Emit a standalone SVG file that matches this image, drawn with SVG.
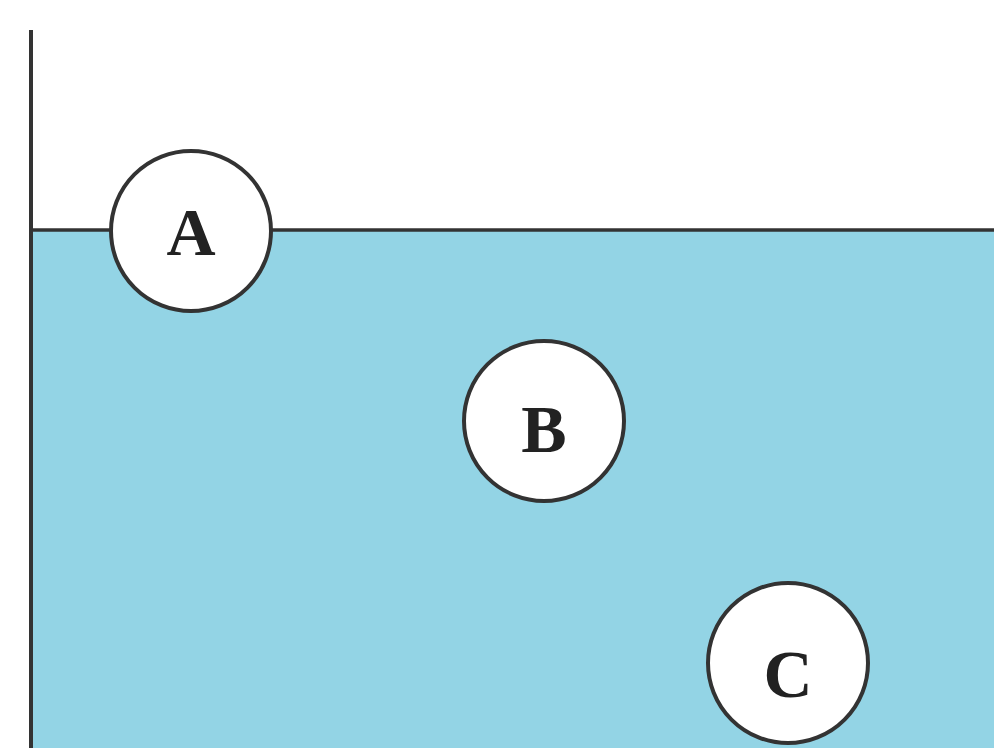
<svg xmlns="http://www.w3.org/2000/svg" width="994" height="748" viewBox="0 0 994 748">
<style>
.wall{stroke:#333;stroke-width:4;fill:none}
.surface{stroke:#333;stroke-width:3.5;fill:none}
.ball{fill:#fff;stroke:#333;stroke-width:4}
.lbl{font-family:"Liberation Serif","Times New Roman",serif;font-weight:bold;font-size:68px;fill:#222;text-anchor:middle}
</style>
<rect x="0" y="0" width="994" height="748" fill="#fff"/>
<rect id="water" x="31" y="230" width="963" height="518" fill="#93D4E5"/>
<g id="container">
<line class="surface" x1="31" y1="230" x2="994" y2="230"/>
<line class="wall" x1="31" y1="30" x2="31" y2="748"/>
</g>
<g id="ballA"><circle class="ball" cx="191" cy="231" r="80"/><text class="lbl" x="191" y="255">A</text></g>
<g id="ballB"><circle class="ball" cx="544" cy="421" r="80"/><text class="lbl" x="544" y="452">B</text></g>
<g id="ballC"><circle class="ball" cx="788" cy="663" r="80"/><text class="lbl" x="788" y="697">C</text></g>
</svg>
